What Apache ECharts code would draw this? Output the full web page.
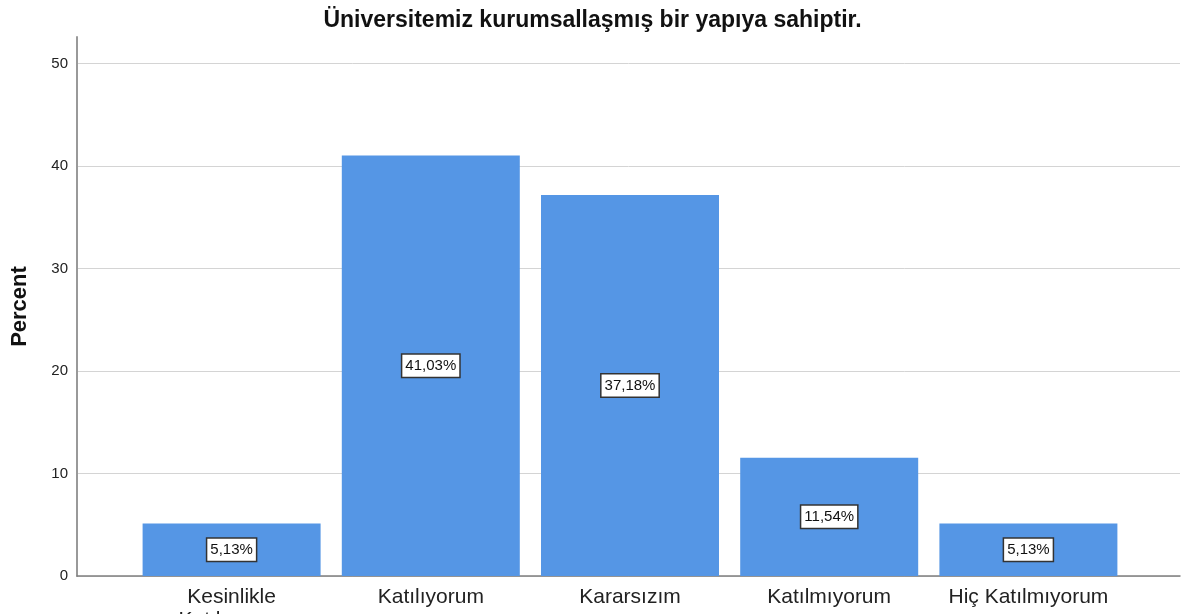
<!DOCTYPE html>
<html>
<head>
<meta charset="utf-8">
<script src="https://cdn.jsdelivr.net/npm/echarts@6/dist/echarts.min.js"></script>
<style>
  html, body { margin: 0; padding: 0; background: #fff; }
  #chart { width: 1185px; height: 614px; }
</style>
</head>
<body>
<div id="chart"></div>
<script>
// Chart data
const categories = ["Kesinlikle\nKatılıyorum", "Katılıyorum", "Kararsızım", "Katılmıyorum", "Hiç Katılmıyorum"];
const percents = [5.13, 41.03, 37.18, 11.54, 5.13];
const title = "Üniversitemiz kurumsallaşmış bir yapıya sahiptir.";
const yMax = 52.6;

const font = "Liberation Sans, Arial, sans-serif";
const chart = echarts.init(document.getElementById("chart"));

chart.setOption({
  animation: false,
  title: {
    text: title,
    left: "center",
    top: 4,
    textStyle: { fontFamily: font, fontSize: 23, fontWeight: "bold", color: "#111" },
  },
  grid: [
    // outer frame: y axis + gridlines
    { left: 77, right: 5, top: 37, bottom: 38, outerBoundsMode: "none", containLabel: false },
    // inner area: bars
    { left: 132, right: 57, top: 37, bottom: 38, outerBoundsMode: "none", containLabel: false },
  ],
  xAxis: [
    {
      gridIndex: 0, type: "value", min: 0, max: 1,
      axisLine: { show: true, lineStyle: { color: "#7f7f7f", width: 1.5 } },
      axisTick: { show: false }, axisLabel: { show: false }, splitLine: { show: false },
    },
    {
      gridIndex: 1, type: "category", data: categories,
      axisLine: { show: false }, axisTick: { show: false },
      axisLabel: {
        interval: 0, hideOverlap: false,
        fontFamily: font, fontSize: 21, color: "#222", margin: 10, lineHeight: 23,
      },
    },
  ],
  yAxis: [
    {
      gridIndex: 0, type: "value", min: 0, max: yMax, interval: 10,
      name: "Percent", nameLocation: "middle", nameGap: 46,
      nameTextStyle: { fontFamily: font, fontSize: 22, fontWeight: "bold", color: "#111" },
      axisLine: { show: true, lineStyle: { color: "#999", width: 2 } },
      axisTick: { show: false },
      axisLabel: { fontFamily: font, fontSize: 15, color: "#222", margin: 9, showMaxLabel: false },
      splitLine: {
        lineStyle: {
          color: ["#d4d4d4", "#d4d4d4", "#d4d4d4", "#d4d4d4", "#d4d4d4", "#d4d4d4", "rgba(0,0,0,0)"],
          width: 1,
        },
      },
    },
    { gridIndex: 1, type: "value", min: 0, max: yMax, show: false },
  ],
  series: [
    {
      type: "bar",
      xAxisIndex: 1,
      yAxisIndex: 1,
      data: percents,
      barWidth: 178,
      itemStyle: { color: "#5596e5" },
      label: {
        show: true,
        position: "inside",
        formatter: (p) => p.value.toFixed(2).replace(".", ",") + "%",
        fontFamily: font,
        fontSize: 15,
        color: "#111",
        backgroundColor: "#fff",
        borderColor: "#333",
        borderWidth: 1.5,
        padding: [4, 3, 3, 3],
      },
    },
  ],
});
</script>
</body>
</html>
